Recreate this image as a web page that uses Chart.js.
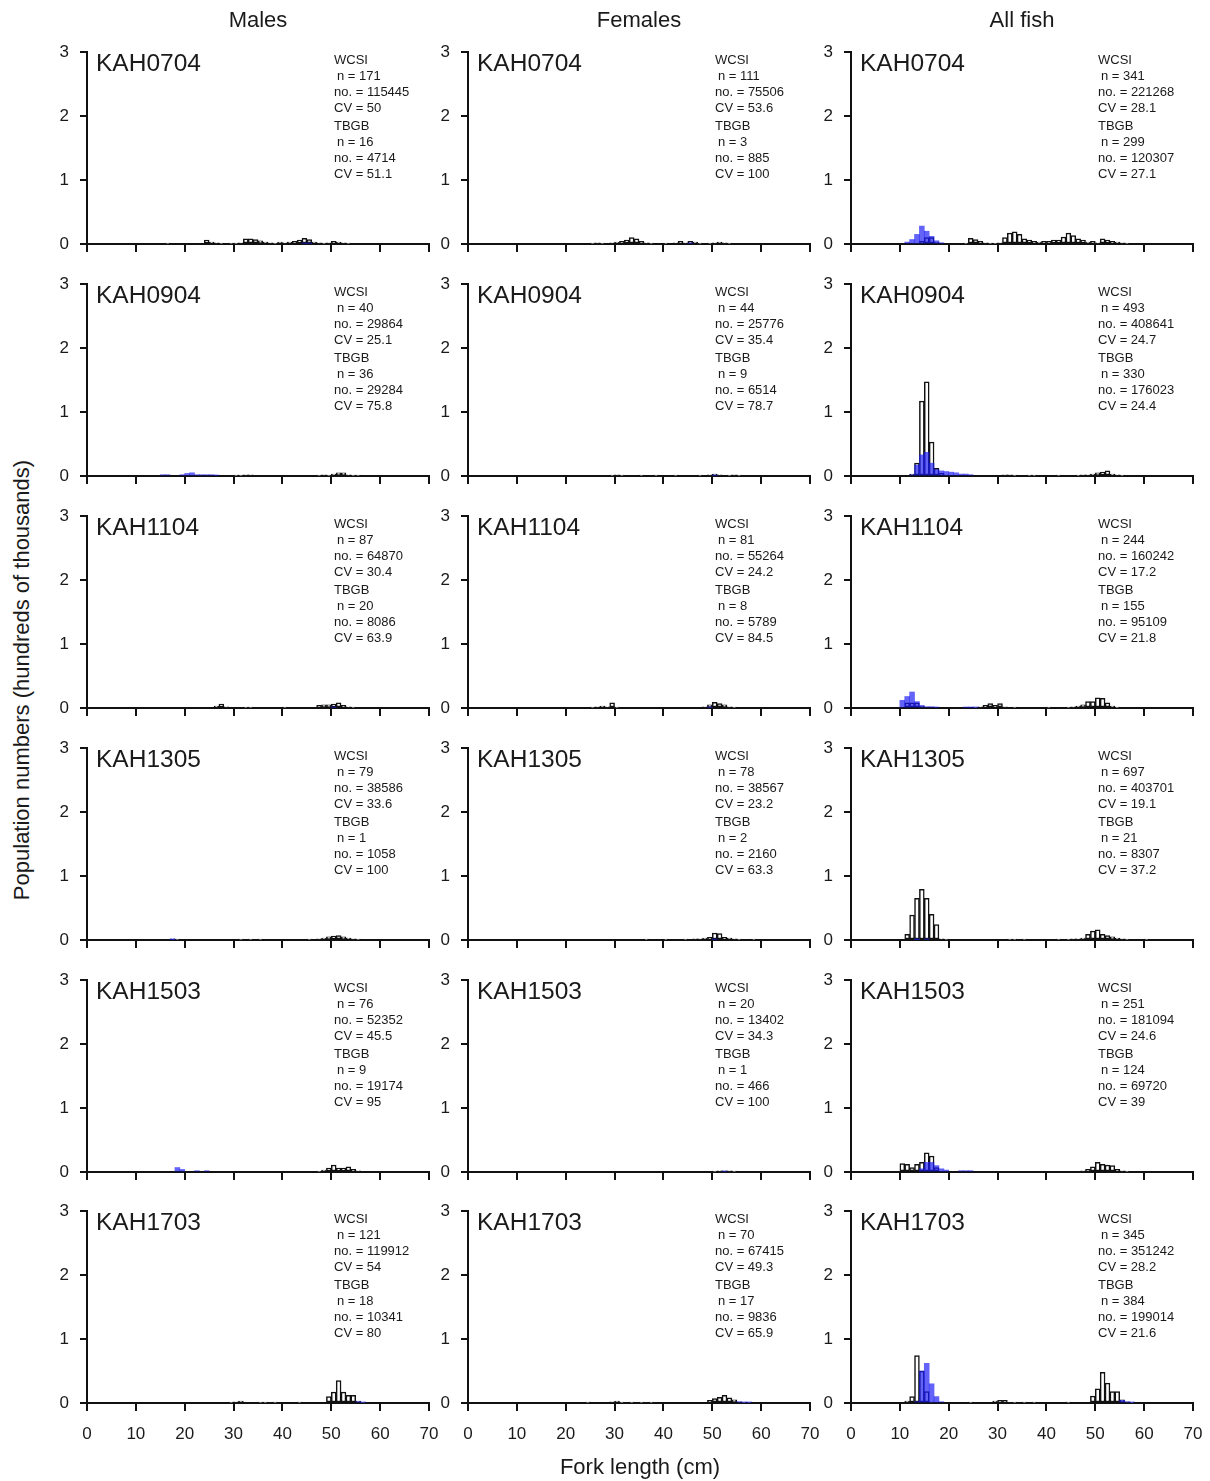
<!DOCTYPE html>
<html><head><meta charset="utf-8">
<script src="https://cdn.jsdelivr.net/npm/chart.js@4/dist/chart.umd.min.js"></script>
<style>
body{margin:0;background:#fff;width:1210px;height:1481px;position:relative;overflow:hidden;font-family:"Liberation Sans",Arial,sans-serif;color:#1a1a1a}
canvas{position:absolute}
.t{position:absolute;white-space:nowrap}
.lab{font-size:24.5px;line-height:24px}
.st{font-size:13px;line-height:16px}
.st div.i{padding-left:3px}
.st div.g{margin-top:2px}
.ct{font-size:22px;line-height:24px;transform:translateX(-50%)}
</style></head><body>
<script>
// ---- categories / labels ----
const surveys = ['KAH0704','KAH0904','KAH1104','KAH1305','KAH1503','KAH1703'];
const columnTitles = ['Males','Females','All fish'];
const xTicks = [0,10,20,30,40,50,60,70];
const yTicks = [0,1,2,3];

// ---- stats: [WCSI n, WCSI no., WCSI CV, TBGB n, TBGB no., TBGB CV] ----
const malesStats = [
  ['171','115445','50','16','4714','51.1'],
  ['40','29864','25.1','36','29284','75.8'],
  ['87','64870','30.4','20','8086','63.9'],
  ['79','38586','33.6','1','1058','100'],
  ['76','52352','45.5','9','19174','95'],
  ['121','119912','54','18','10341','80']
];
const femalesStats = [
  ['111','75506','53.6','3','885','100'],
  ['44','25776','35.4','9','6514','78.7'],
  ['81','55264','24.2','8','5789','84.5'],
  ['78','38567','23.2','2','2160','63.3'],
  ['20','13402','34.3','1','466','100'],
  ['70','67415','49.3','17','9836','65.9']
];
const allStats = [
  ['341','221268','28.1','299','120307','27.1'],
  ['493','408641','24.7','330','176023','24.4'],
  ['244','160242','17.2','155','95109','21.8'],
  ['697','403701','19.1','21','8307','37.2'],
  ['251','181094','24.6','124','69720','39'],
  ['345','351242','28.2','384','199014','21.6']
];

// ---- series: [length bin start (cm), population (hundreds of thousands)] ----
// Males
const M0704_WCSI = [[16,0.01],[24,0.06],[25,0.03],[26,0.02],[27,0.01],[29,0.01],[30,0.01],[31,0.02],[32,0.08],[33,0.08],[34,0.07],[35,0.05],[36,0.03],[37,0.02],[38,0.01],[39,0.03],[40,0.02],[41,0.03],[42,0.04],[43,0.06],[44,0.09],[45,0.07],[46,0.03],[47,0.02],[48,0.01],[49,0.02],[50,0.04],[51,0.03],[52,0.02],[53,0.01]];
const M0704_TBGB = [[44,0.01],[45,0.01]];
const M0904_WCSI = [[30,0.01],[31,0.01],[32,0.02],[33,0.02],[47,0.01],[48,0.02],[49,0.01],[50,0.03],[51,0.05],[52,0.05],[53,0.02],[54,0.01],[55,0.01]];
const M0904_TBGB = [[15,0.02],[16,0.02],[19,0.02],[20,0.04],[21,0.05],[22,0.02],[23,0.02],[24,0.02],[25,0.02],[26,0.01]];
const M1104_WCSI = [[26,0.03],[27,0.06],[28,0.02],[32,0.01],[33,0.01],[40,0.01],[47,0.04],[48,0.05],[49,0.05],[50,0.06],[51,0.08],[52,0.04],[53,0.02],[54,0.01]];
const M1104_TBGB = [[50,0.01]];
const M1305_WCSI = [[17,0.02],[18,0.01],[31,0.01],[33,0.01],[35,0.01],[45,0.01],[47,0.02],[48,0.03],[49,0.05],[50,0.06],[51,0.07],[52,0.05],[53,0.03],[54,0.02],[55,0.01]];
const M1305_TBGB = [[17,0.005]];
const M1503_WCSI = [[47,0.01],[48,0.03],[49,0.06],[50,0.11],[51,0.06],[52,0.06],[53,0.08],[54,0.04],[55,0.02]];
const M1503_TBGB = [[18,0.07],[19,0.04],[22,0.02],[24,0.02]];
const M1703_WCSI = [[29,0.01],[30,0.02],[31,0.03],[35,0.01],[36,0.01],[38,0.01],[43,0.01],[49,0.1],[50,0.17],[51,0.35],[52,0.17],[53,0.12],[54,0.12],[55,0.03],[56,0.01]];
const M1703_TBGB = [[55,0.02],[56,0.01]];
// Females
const F0704_WCSI = [[25,0.01],[26,0.02],[27,0.01],[29,0.02],[30,0.03],[31,0.04],[32,0.06],[33,0.1],[34,0.08],[35,0.04],[36,0.02],[37,0.01],[40,0.01],[42,0.02],[43,0.04],[44,0.02],[45,0.04],[46,0.03],[47,0.01],[49,0.01],[50,0.02],[51,0.03],[52,0.02],[53,0.01]];
const F0704_TBGB = [[45,0.01]];
const F0904_WCSI = [[29,0.01],[30,0.02],[31,0.01],[35,0.01],[38,0.01],[42,0.01],[47,0.01],[49,0.02],[50,0.03],[51,0.02],[53,0.01],[54,0.02],[55,0.01]];
const F0904_TBGB = [[50,0.01]];
const F1104_WCSI = [[25,0.01],[26,0.02],[27,0.03],[28,0.02],[29,0.08],[30,0.01],[48,0.02],[49,0.05],[50,0.09],[51,0.07],[52,0.05],[53,0.02],[54,0.01]];
const F1104_TBGB = [[49,0.01]];
const F1305_WCSI = [[36,0.01],[40,0.01],[44,0.01],[46,0.02],[47,0.02],[48,0.03],[49,0.04],[50,0.11],[51,0.1],[52,0.04],[53,0.03],[54,0.02],[55,0.01],[58,0.01]];
const F1305_TBGB = [[50,0.01]];
const F1503_WCSI = [[50,0.01],[51,0.02],[52,0.02],[53,0.02],[54,0.01]];
const F1503_TBGB = [[52,0.01]];
const F1703_WCSI = [[24,0.01],[29,0.02],[30,0.03],[31,0.01],[33,0.01],[35,0.01],[37,0.01],[49,0.04],[50,0.07],[51,0.09],[52,0.12],[53,0.08],[54,0.05],[55,0.02],[56,0.01],[57,0.01]];
const F1703_TBGB = [[55,0.02],[56,0.01],[57,0.01]];
// All fish
const A0704_WCSI = [[14,0.04],[15,0.1],[16,0.1],[17,0.03],[23,0.01],[24,0.09],[25,0.07],[26,0.04],[27,0.02],[28,0.01],[29,0.01],[30,0.02],[31,0.1],[32,0.17],[33,0.19],[34,0.15],[35,0.08],[36,0.06],[37,0.04],[38,0.03],[39,0.04],[40,0.04],[41,0.06],[42,0.06],[43,0.11],[44,0.17],[45,0.13],[46,0.08],[47,0.06],[48,0.03],[49,0.04],[50,0.02],[51,0.08],[52,0.06],[53,0.04],[54,0.03],[55,0.02],[56,0.01]];
const A0704_TBGB = [[11,0.03],[12,0.07],[13,0.15],[14,0.28],[15,0.2],[16,0.12],[17,0.05],[18,0.02]];
const A0904_WCSI = [[12,0.03],[13,0.2],[14,1.17],[15,1.47],[16,0.53],[17,0.12],[18,0.04],[19,0.02],[31,0.02],[32,0.02],[33,0.01],[36,0.01],[37,0.01],[42,0.01],[46,0.01],[47,0.02],[48,0.02],[49,0.03],[50,0.05],[51,0.06],[52,0.08],[53,0.03],[54,0.02],[55,0.01]];
const A0904_TBGB = [[12,0.02],[13,0.17],[14,0.33],[15,0.37],[16,0.2],[17,0.1],[18,0.08],[19,0.07],[20,0.06],[21,0.05],[22,0.03],[23,0.03],[24,0.02]];
const A1104_WCSI = [[11,0.08],[12,0.08],[13,0.08],[14,0.03],[25,0.01],[26,0.02],[27,0.04],[28,0.07],[29,0.04],[30,0.07],[31,0.02],[33,0.01],[40,0.01],[44,0.01],[45,0.02],[46,0.03],[47,0.05],[48,0.1],[49,0.1],[50,0.16],[51,0.15],[52,0.08],[53,0.03],[54,0.01]];
const A1104_TBGB = [[10,0.12],[11,0.18],[12,0.25],[13,0.1],[14,0.04],[15,0.02],[16,0.02],[17,0.01],[23,0.01],[24,0.01],[25,0.01]];
const A1305_WCSI = [[11,0.09],[12,0.39],[13,0.65],[14,0.79],[15,0.65],[16,0.4],[17,0.24],[18,0.02],[19,0.01],[32,0.01],[33,0.01],[35,0.01],[42,0.01],[44,0.01],[45,0.02],[46,0.02],[47,0.03],[48,0.09],[49,0.14],[50,0.16],[51,0.09],[52,0.07],[53,0.05],[54,0.03],[55,0.02],[56,0.01],[60,0.01]];
const A1305_TBGB = [[13,0.005],[15,0.01]];
const A1503_WCSI = [[10,0.13],[11,0.12],[12,0.07],[13,0.12],[14,0.15],[15,0.3],[16,0.25],[17,0.07],[47,0.02],[48,0.04],[49,0.08],[50,0.15],[51,0.12],[52,0.11],[53,0.1],[54,0.04],[55,0.02],[56,0.01]];
const A1503_TBGB = [[14,0.05],[15,0.15],[16,0.15],[17,0.1],[18,0.05],[19,0.03],[22,0.02],[23,0.02],[24,0.02]];
const A1703_WCSI = [[11,0.03],[12,0.1],[13,0.74],[14,0.5],[15,0.18],[16,0.02],[24,0.01],[29,0.03],[30,0.04],[31,0.04],[33,0.01],[35,0.01],[37,0.01],[44,0.01],[49,0.11],[50,0.22],[51,0.48],[52,0.31],[53,0.18],[54,0.18],[55,0.05],[56,0.02],[57,0.01]];
const A1703_TBGB = [[13,0.02],[14,0.5],[15,0.62],[16,0.3],[17,0.1],[18,0.02],[55,0.04],[56,0.02],[57,0.01]];

const panelSeries = [
  [[M0704_WCSI,M0704_TBGB],[F0704_WCSI,F0704_TBGB],[A0704_WCSI,A0704_TBGB]],
  [[M0904_WCSI,M0904_TBGB],[F0904_WCSI,F0904_TBGB],[A0904_WCSI,A0904_TBGB]],
  [[M1104_WCSI,M1104_TBGB],[F1104_WCSI,F1104_TBGB],[A1104_WCSI,A1104_TBGB]],
  [[M1305_WCSI,M1305_TBGB],[F1305_WCSI,F1305_TBGB],[A1305_WCSI,A1305_TBGB]],
  [[M1503_WCSI,M1503_TBGB],[F1503_WCSI,F1503_TBGB],[A1503_WCSI,A1503_TBGB]],
  [[M1703_WCSI,M1703_TBGB],[F1703_WCSI,F1703_TBGB],[A1703_WCSI,A1703_TBGB]]
];
const statsByCol = [malesStats, femalesStats, allStats];

// ---- layout ----
const X0 = [87, 468, 851];
const PW = 342;
const Y3 = [52, 284, 516, 748, 980, 1211];
const PH = 192;
const YAXW = 45, PADT = 10, PADR = 12;
const BLUE = 'rgba(25,25,245,0.68)';
const INK = '#111111';

Chart.defaults.font.family = '"Liberation Sans", Arial, sans-serif';

function addDiv(cls, left, top, html, extra) {
  const d = document.createElement('div');
  d.className = 't ' + cls;
  d.style.left = left + 'px';
  d.style.top = top + 'px';
  d.innerHTML = html;
  if (extra) Object.assign(d.style, extra);
  document.body.appendChild(d);
  return d;
}
const toXY = arr => arr.map(([b, v]) => ({x: b + 0.5, y: v}));

for (let r = 0; r < 6; r++) {
  for (let c = 0; c < 3; c++) {
    const bottomH = (r === 5) ? 45 : 14;
    const cv = document.createElement('canvas');
    const W = YAXW + PW + PADR, H = PADT + PH + bottomH;
    cv.width = W; cv.height = H;
    cv.style.left = (X0[c] - YAXW) + 'px';
    cv.style.top = (Y3[r] - PADT) + 'px';
    cv.style.width = W + 'px'; cv.style.height = H + 'px';
    document.body.appendChild(cv);
    const [wc, tb] = panelSeries[r][c];
    new Chart(cv, {
      type: 'bar',
      data: {datasets: [
        {label: 'TBGB', data: toXY(tb), backgroundColor: BLUE, borderWidth: 0,
         grouped: false, barPercentage: 1, categoryPercentage: 1, order: 0},
        {label: 'WCSI', data: toXY(wc), backgroundColor: '#ffffff', borderColor: INK,
         borderWidth: 1.5, borderSkipped: false, grouped: false,
         barPercentage: 1, categoryPercentage: 1, order: 1}
      ]},
      options: {
        responsive: false, animation: false, devicePixelRatio: 1,
        layout: {padding: {top: PADT, right: PADR, left: 0, bottom: 0}},
        plugins: {legend: {display: false}, tooltip: {enabled: false}},
        scales: {
          x: {type: 'linear', min: 0, max: 70, offset: false,
              afterBuildTicks: s => { s.ticks = xTicks.map(v => ({value: v})); },
              ticks: {display: r === 5, font: {size: 17}, color: '#1a1a1a', padding: 13, maxRotation: 0, autoSkip: false},
              grid: {display: true, drawOnChartArea: false, drawTicks: true, tickLength: 8, color: INK, lineWidth: 2, offset: false},
              border: {display: true, color: INK, width: 2},
              afterFit: s => { s.height = bottomH; s.paddingLeft = 0; s.paddingRight = 0; }},
          y: {min: 0, max: 3,
              afterBuildTicks: s => { s.ticks = yTicks.map(v => ({value: v})); },
              ticks: {font: {size: 17}, color: '#1a1a1a', padding: 11},
              grid: {display: true, drawOnChartArea: false, drawTicks: true, tickLength: 7, color: INK, lineWidth: 2},
              border: {display: true, color: INK, width: 2},
              afterFit: s => { s.width = YAXW; s.paddingTop = 0; s.paddingBottom = 0; }}
        }
      }
    });
    // panel label
    addDiv('lab', X0[c] + 9, Y3[r] - 1, surveys[r]);
    // stats block
    const s = statsByCol[c][r];
    addDiv('st', X0[c] + 247, Y3[r],
      '<div>WCSI</div><div class="i">n = ' + s[0] + '</div><div>no. = ' + s[1] + '</div><div>CV = ' + s[2] + '</div>' +
      '<div class="g">TBGB</div><div class="i">n = ' + s[3] + '</div><div>no. = ' + s[4] + '</div><div>CV = ' + s[5] + '</div>');
  }
}
// column titles
for (let c = 0; c < 3; c++) addDiv('ct', X0[c] + PW / 2, 8, columnTitles[c]);
// axis titles
addDiv('ct', 640, 1455, 'Fork length (cm)');
addDiv('t', 22, 680, 'Population numbers (hundreds of thousands)',
  {fontSize: '22px', lineHeight: '24px', transform: 'translate(-50%,-50%) rotate(-90deg)'});
</script>
</body></html>
